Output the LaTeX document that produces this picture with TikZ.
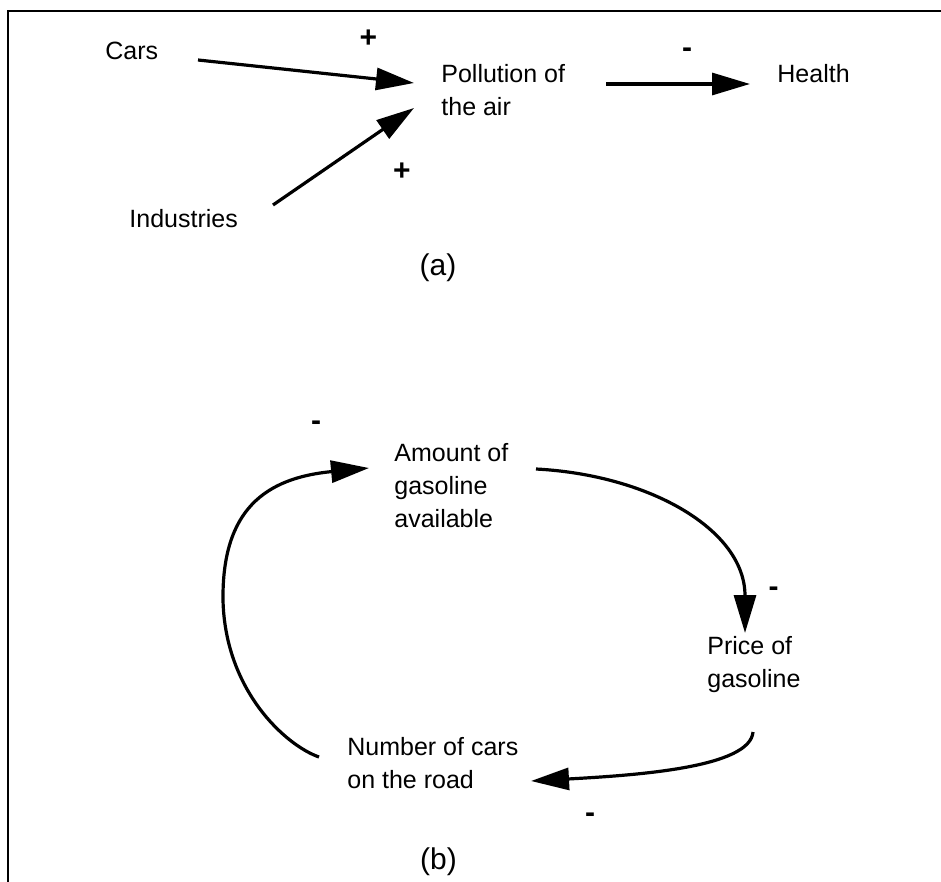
\documentclass[tikz,border=0pt]{standalone}
\usepackage{fontspec}
\setmainfont{Liberation Sans}
\usetikzlibrary{arrows.meta,calc}
\begin{document}
\begin{tikzpicture}[x=0.5pt,y=-0.5pt,
  lbl/.style={inner sep=0pt, font=\fontsize{12.5}{16.5}\selectfont, align=left},
  sign/.style={inner sep=0pt, font=\fontsize{15}{18}\selectfont\bfseries},
  sublabel/.style={inner sep=0pt, font=\fontsize{15}{18}\selectfont},
  link/.style={line width=1.6pt, -{Triangle[length=19pt,width=11pt]}},
  frameline/.style={line width=1.3pt, line join=miter}]

\useasboundingbox (0,0) rectangle (941,882);

% open frame: left and top rules
\draw[frameline] (8,882) -- (8,11) -- (941,11);

% (a) pollution diagram
\node[lbl, anchor=west] (cars)   at (105,51)    {Cars};
\node[lbl, anchor=west] (poll)   at (441,90.5)  {Pollution of\\the air};
\node[lbl, anchor=west] (health) at (777,74)    {Health};
\node[lbl, anchor=west] (ind)    at (129,218.5) {Industries};
\node[sublabel] (capa) at (438,267.5) {(a)};

\node[sign, anchor=base] (pcars) at (368.5,48)  {+};
\node[sign, anchor=base] (mhlth) at (687,57.5)  {-};
\node[sign, anchor=base] (pind)  at (402,181)   {+};

\draw[link] ($(cars.west)+(93,9)$) -- ($(poll.west)+(-27,-7.5)$);
\draw[link] ($(ind.west)+(144,-13.5)$) -- ($(poll.west)+(-27,17.5)$);
\draw[link] ($(poll.west)+(165,-6.5)$) -- ($(health.west)+(-27,10)$);

% (b) gasoline feedback loop
\node[lbl, anchor=west] (amount) at (394,485.5) {Amount of\\gasoline\\available};
\node[lbl, anchor=west] (price)  at (707,665)   {Price of\\gasoline};
\node[lbl, anchor=west] (number) at (347,763.5) {Number of cars\\on the road};
\node[sublabel] (capb) at (438.5,862) {(b)};

\node[sign, anchor=base] (mloop)  at (316,430.5) {-};
\node[sign, anchor=base] (mprice) at (773.5,596) {-};
\node[sign, anchor=base] (mcars)  at (590,822)   {-};

\draw[link] ($(amount.west)+(142,-16.5)$)
  .. controls +(114,6) and +(0,-103) .. ($(price.west)+(38,-32)$);
\draw[link] ($(price.west)+(46,67)$)
  .. controls +(-3,35) and +(110,-6) .. ($(number.west)+(184,17.5)$);
\draw[link] ($(number.west)+(-28,-6.5)$)
  .. controls (285,745) and (225,690) .. (223,600)
  .. controls (222,510) and (265,478) .. ($(amount.west)+(-25,-17.5)$);

\end{tikzpicture}
\end{document}
